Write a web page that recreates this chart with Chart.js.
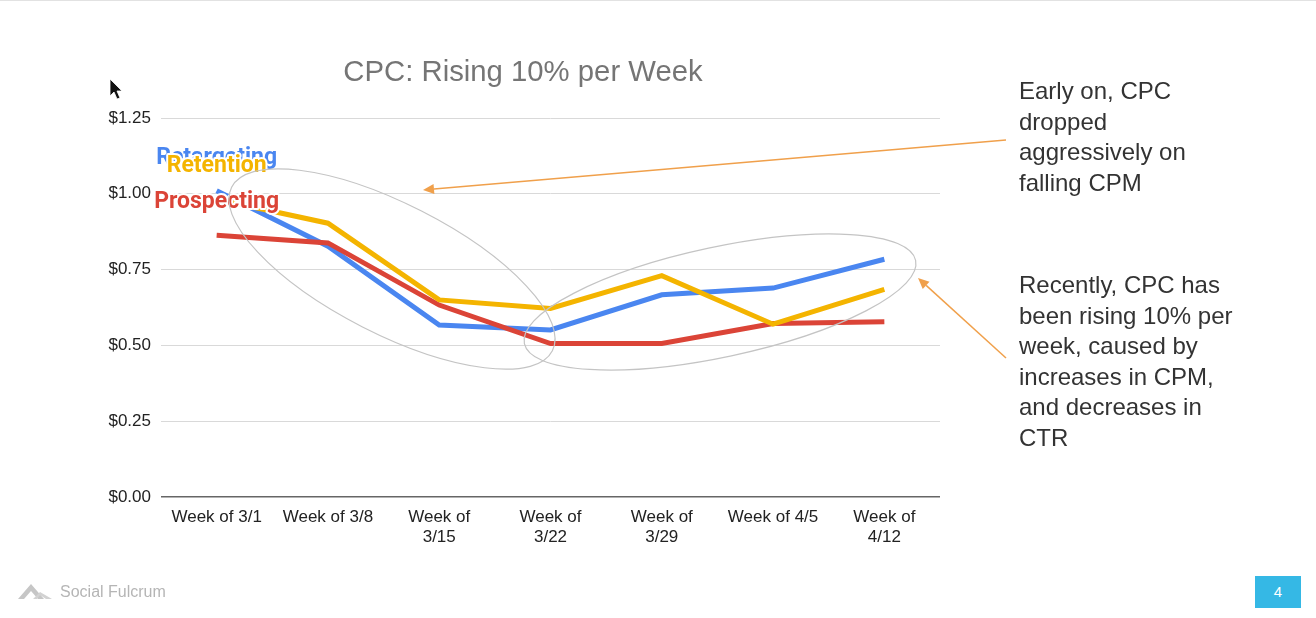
<!DOCTYPE html>
<html>
<head>
<meta charset="utf-8">
<script src="https://cdn.jsdelivr.net/npm/chart.js@4"></script>
<style>
  html, body { margin: 0; padding: 0; background: #fff; }
  body { width: 1316px; height: 618px; position: relative; overflow: hidden; font-family: "Liberation Sans", Arial, sans-serif; border-top: 1px solid #e2e2e2; box-sizing: border-box; }
  #chart { position: absolute; left: 0; top: 0; }
  .note { position: absolute; left: 1019px; font-size: 24px; line-height: 30.5px; color: #333; }
  #brand { position: absolute; left: 60px; top: 582px; font-size: 16px; color: #b5b5b5; }
  #logo { position: absolute; left: 17px; top: 581px; }
  #page { position: absolute; left: 1255px; top: 575px; width: 46px; height: 32px; background: #35b8e5; color: #fff; font-size: 15px; line-height: 32px; text-align: center; }
  #cursor { position: absolute; left: 109px; top: 77px; }
</style>
</head>
<body>
<canvas id="chart" width="1316" height="618"></canvas>
<div class="note" style="top:75px">Early on, CPC<br>dropped<br>aggressively on<br>falling CPM</div>
<div class="note" style="top:269px">Recently, CPC has<br>been rising 10% per<br>week, caused by<br>increases in CPM,<br>and decreases in<br>CTR</div>
<svg id="logo" width="38" height="20" viewBox="0 0 38 20">
  <polygon points="1,17 14,2 27,17 21,17 14,9 7,17" fill="#c6c6c6"/>
  <polygon points="16,17 23,10 35,17 29,17 23,13 20,17" fill="#d2d2d2"/>
</svg>
<div id="brand">Social Fulcrum</div>
<div id="page">4</div>
<svg id="cursor" width="16" height="24" viewBox="0 0 16 24">
  <polygon points="1,1 1,18 5,14 8,21 11,20 8,13 13,13" fill="#111" stroke="#fff" stroke-width="0.8"/>
</svg>
<script>
// --- données ---
const categories = ['Week of 3/1', 'Week of 3/8', ['Week of', '3/15'], ['Week of', '3/22'],
                    ['Week of', '3/29'], 'Week of 4/5', ['Week of', '4/12']];
const retargeting = [1.01, 0.827, 0.567, 0.551, 0.667, 0.689, 0.784];
const retention   = [0.982, 0.903, 0.65, 0.622, 0.73, 0.57, 0.685];
const prospecting = [0.863, 0.838, 0.633, 0.506, 0.506, 0.572, 0.578];
const yTicks = [0, 0.25, 0.5, 0.75, 1, 1.25];

const FONT = '"Liberation Sans", Arial, sans-serif';

// annotations (pixels)
const ellipses = [
    { cx: 392, cy: 268, rx: 180, ry: 65, rot: 27 },
    { cx: 720, cy: 301, rx: 200, ry: 55, rot: -12 }
];
const arrows = [
    { x1: 1006, y1: 139, x2: 423, y2: 189 },
    { x1: 1006, y1: 357, x2: 918, y2: 277 }
];

const decorPlugin = {
    id: 'decor',
    afterDatasetsDraw(chart) {
        const ctx = chart.ctx;
        ctx.save();

        // series labels at the first point
        const order = [2, 0, 1]; // Retargeting, Retention, Prospecting
        order.forEach(i => {
            const ds = chart.data.datasets[i];
            const pt = chart.getDatasetMeta(i).data[0];
            ctx.font = 'bold 23px Roboto, sans-serif';
            ctx.textAlign = 'center';
            ctx.textBaseline = 'alphabetic';
            ctx.lineJoin = 'round';
            ctx.lineWidth = 4;
            ctx.strokeStyle = '#fff';
            ctx.strokeText(ds.label, pt.x, pt.y - 27);
            ctx.fillStyle = ds.borderColor;
            ctx.fillText(ds.label, pt.x, pt.y - 27);
        });

        // ellipses
        ctx.strokeStyle = '#c4c4c4';
        ctx.lineWidth = 1.2;
        ellipses.forEach(e => {
            ctx.beginPath();
            ctx.ellipse(e.cx, e.cy, e.rx, e.ry, e.rot * Math.PI / 180, 0, Math.PI * 2);
            ctx.stroke();
        });

        // arrows
        ctx.strokeStyle = '#f0a04b';
        ctx.fillStyle = '#f0a04b';
        ctx.lineWidth = 1.5;
        arrows.forEach(a => {
            const ang = Math.atan2(a.y2 - a.y1, a.x2 - a.x1);
            const hl = 11, hw = 5;
            const bx = a.x2 - hl * Math.cos(ang), by = a.y2 - hl * Math.sin(ang);
            ctx.beginPath();
            ctx.moveTo(a.x1, a.y1);
            ctx.lineTo(bx, by);
            ctx.stroke();
            ctx.beginPath();
            ctx.moveTo(a.x2, a.y2);
            ctx.lineTo(bx + hw * Math.sin(ang), by - hw * Math.cos(ang));
            ctx.lineTo(bx - hw * Math.sin(ang), by + hw * Math.cos(ang));
            ctx.closePath();
            ctx.fill();
        });

        // titre
        ctx.font = '29.3px ' + FONT;
        ctx.fillStyle = '#757575';
        ctx.textAlign = 'center';
        ctx.textBaseline = 'middle';
        ctx.fillText('CPC: Rising 10% per Week', 523, 72);

        ctx.restore();
    }
};

new Chart(document.getElementById('chart'), {
    type: 'line',
    data: {
        labels: categories,
        datasets: [
            { label: 'Retention', data: retention, borderColor: '#f4b400' },
            { label: 'Prospecting', data: prospecting, borderColor: '#db4437' },
            { label: 'Retargeting', data: retargeting, borderColor: '#4a86f0' }
        ].map(d => Object.assign(d, { borderWidth: 5, pointRadius: 0, tension: 0, fill: false, borderJoinStyle: 'miter' }))
    },
    options: {
        responsive: false,
        animation: false,
        layout: { padding: { left: 0, right: 376, top: 117, bottom: 0 } },
        plugins: { legend: { display: false }, title: { display: false }, tooltip: { enabled: false } },
        scales: {
            x: {
                offset: true,
                grid: { display: false, drawTicks: false },
                border: { display: false },
                ticks: { color: '#222', font: { family: FONT, size: 17, lineHeight: 1.2 }, padding: 10, maxRotation: 0, autoSkip: false },
                afterFit(scale) { scale.height = 122; }
            },
            y: {
                min: 0, max: 1.25,
                afterBuildTicks(scale) { scale.ticks = yTicks.map(v => ({ value: v })); },
                grid: {
                    drawTicks: false,
                    color: c => c.tick && c.tick.value === 0 ? '#666' : '#d9d9d9',
                    lineWidth: c => c.tick && c.tick.value === 0 ? 1.5 : 1
                },
                border: { display: false },
                ticks: { color: '#222', font: { family: FONT, size: 17 }, padding: 10, callback: v => '$' + v.toFixed(2) },
                afterFit(scale) { scale.width = 161; }
            }
        }
    },
    plugins: [decorPlugin]
});
</script>
</body>
</html>
